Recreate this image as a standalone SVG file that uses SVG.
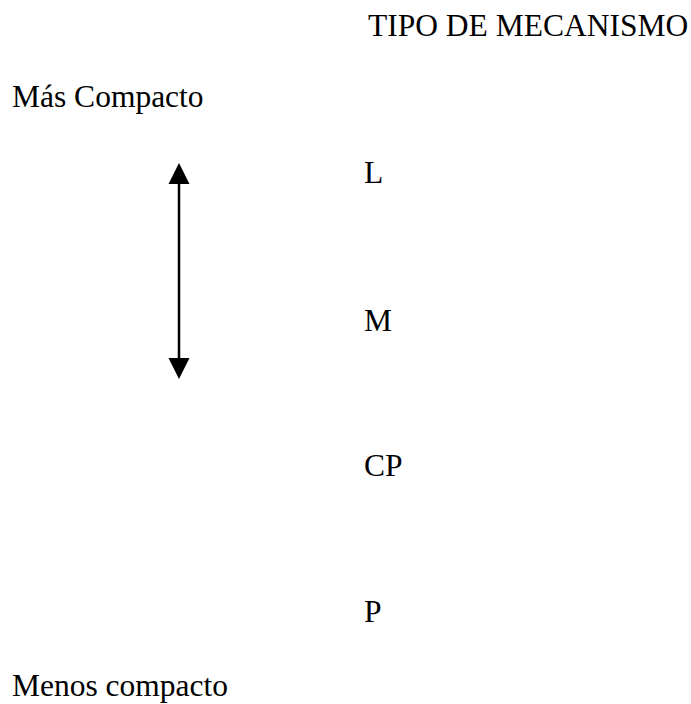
<svg xmlns="http://www.w3.org/2000/svg" width="691" height="704" viewBox="0 0 691 704">
<style>
text{font-family:"Liberation Serif","Times New Roman",serif;font-size:31.5px;fill:#000}
</style>
<defs>
<marker id="ah" markerWidth="10" markerHeight="10" refX="10" refY="5" orient="auto" markerUnits="userSpaceOnUse" viewBox="0 0 10 10">
<path d="M0,0 L10,5 L0,10 z" fill="#000"/>
</marker>
</defs>
<rect width="691" height="704" fill="#fff"/>
<g id="title"><text x="368" y="36">TIPO DE MECANISMO</text></g>
<g id="mas"><text x="12" y="107">Más Compacto</text></g>
<g id="L"><text x="364" y="183">L</text></g>
<g id="M"><text x="364" y="331">M</text></g>
<g id="CP"><text x="364" y="476">CP</text></g>
<g id="P"><text x="364" y="622">P</text></g>
<g id="menos"><text x="12" y="696">Menos compacto</text></g>
<g id="connectors">
<line x1="179" y1="182" x2="179" y2="360" stroke="#000" stroke-width="2.5"/>
<polygon points="179,163 168.5,184 189.5,184" fill="#000"/>
<polygon points="179,379 168.5,358 189.5,358" fill="#000"/>
</g>
</svg>
